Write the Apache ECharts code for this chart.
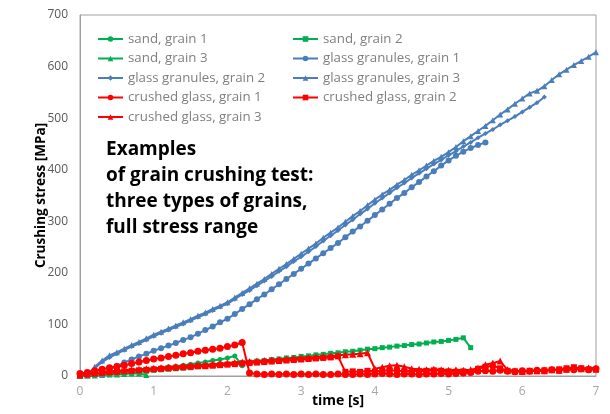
<!DOCTYPE html>
<html>
<head>
<meta charset="utf-8">
<script src="https://cdn.jsdelivr.net/npm/echarts@6/dist/echarts.min.js"></script>
<style>
  html, body { margin: 0; padding: 0; background: #ffffff; }
  #chart { width: 610px; height: 414px; }
</style>
</head>
<body>
<div id="chart"></div>
<script>
// Crushing stress [MPa] sampled every 0.1 s, starting at the given time.
const STEP = 0.1;

const sandGrain1Start = 0.0;
const sandGrain1 = [0, 1, 2, 3, 5, 6, 8, 9, 11, 12, 14, 16, 18, 19, 21, 23, 25, 27, 30, 32, 35, 39, 20];

const sandGrain2Start = 0.0;
const sandGrain2 = [0, 1, 2, 3, 4, 5, 6, 7, 8, 9, 11, 12, 13, 14, 15, 16, 18, 19, 20, 22,
  23, 24, 26, 27, 29, 30, 32, 33, 35, 36, 38, 39, 41, 42, 44, 45, 47, 48, 50, 52,
  53, 55, 56, 58, 59, 61, 62, 64, 66, 67, 69, 71, 74, 55];

const sandGrain3Start = 0.0;
const sandGrain3 = [0, 1, 1, 2, 3, 3, 4, 5, 5, 2];

const glassGrain1Start = 0.3;
const glassGrain1 = [2, 12, 20, 26, 32, 38, 43, 49, 54, 59, 64, 70, 75, 82, 89, 96, 104, 111,
  120, 130, 139, 149, 158, 168, 178, 188, 198, 208, 218, 228, 238, 248, 258, 269, 280, 290,
  301, 312, 323, 334, 345, 355, 366, 376, 387, 397, 408, 418, 427, 435, 442, 448, 453];

const glassGrain2Start = 0.1;
const glassGrain2 = [2, 15, 27, 36, 43, 50, 57, 63, 70, 77, 83, 89, 95, 101, 107, 114, 120, 127,
  134, 140, 149, 158, 166, 175, 184, 193, 203, 212, 222, 231, 241, 251, 262, 272, 282, 293,
  303, 314, 324, 335, 345, 355, 365, 374, 384, 393, 402, 411, 419, 428, 436, 445, 453, 462,
  470, 478, 487, 495, 503, 512, 521, 530, 541];

const glassGrain3Start = 0.1;
const glassGrain3 = [1, 18, 30, 40, 46, 53, 60, 66, 73, 80, 86, 92, 98, 104, 110, 117, 123, 130,
  136, 143, 152, 161, 170, 179, 188, 198, 208, 217, 227, 237, 247, 257, 268, 278, 288, 299,
  310, 320, 331, 342, 352, 361, 371, 380, 390, 399, 408, 417, 425, 434, 444, 455, 465, 475,
  485, 496, 507, 517, 528, 538, 548, 553, 562, 574, 585, 594, 603, 611, 619, 628];

const crushedGrain1Start = 0.0;
const crushedGrain1 = [5, 7, 10, 13, 16, 18, 21, 24, 27, 30, 33, 35, 38, 40, 43, 45, 48, 50, 52,
  54, 57, 60, 65, 6, 4, 3, 4, 3, 4, 3, 4, 3, 4, 3, 3, 4, 3, 3, 4, 3, 4, 5, 4, 3, 4, 4, 3, 4,
  4, 5, 4, 5, 6, 7, 9, 10, 9, 11, 9, 8, 10, 9, 11, 10, 12, 11, 13, 12, 14, 12, 14];

const crushedGrain2Start = 0.0;
const crushedGrain2 = [3, 4, 5, 6, 7, 8, 9, 10, 11, 12, 13, 14, 15, 16, 17, 18, 19, 19, 20, 21,
  22, 23, 24, 25, 26, 27, 28, 29, 30, 31, 32, 33, 34, 35, 36, 38, 8, 9, 8, 10, 9, 10, 11, 10,
  9, 10, 9, 10, 11, 10, 9, 8, 9, 8, 14, 18, 20, 15, 10, 9, 8, 10, 9, 11, 12, 13, 15, 17, 15,
  13, 12];

const crushedGrain3Start = 0.0;
const crushedGrain3 = [2, 4, 6, 8, 9, 10, 11, 12, 13, 14, 15, 16, 17, 18, 19, 20, 21, 22, 23, 24,
  25, 26, 27, 28, 29, 30, 31, 32, 33, 34, 35, 36, 37, 38, 39, 40, 41, 42, 43, 45, 14, 17, 20,
  21, 18, 14, 13, 12, 13, 12, 11, 12, 11, 12, 15, 22, 25, 29, 12, 10, 9, 10, 11, 10, 12, 11,
  13, 16, 14, 16, 15];

const seriesNames = [
  'sand, grain 1', 'sand, grain 2', 'sand, grain 3',
  'glass granules, grain 1', 'glass granules, grain 2', 'glass granules, grain 3',
  'crushed glass, grain 1', 'crushed glass, grain 2', 'crushed glass, grain 3'
];

const xTicks = [0, 1, 2, 3, 4, 5, 6, 7];
const yTicks = [0, 100, 200, 300, 400, 500, 600, 700];

const GREEN = '#00b050';
const BLUE = '#4a7ebb';
const RED = '#ff0000';
const FONT = 'Open Sans';

function toPairs(start, values) {
  return values.map((v, i) => [+(start + i * STEP).toFixed(2), v]);
}

function lineSeries(name, start, values, color, symbol, size) {
  return {
    name: name,
    type: 'line',
    data: toPairs(start, values),
    symbol: symbol,
    symbolSize: size,
    showAllSymbol: true,
    lineStyle: { color: color, width: 2 },
    itemStyle: { color: color },
    animation: false
  };
}

const series = [
  lineSeries(seriesNames[0], sandGrain1Start, sandGrain1, GREEN, 'circle', 5),
  lineSeries(seriesNames[1], sandGrain2Start, sandGrain2, GREEN, 'rect', 5),
  lineSeries(seriesNames[2], sandGrain3Start, sandGrain3, GREEN, 'triangle', 6),
  lineSeries(seriesNames[3], glassGrain1Start, glassGrain1, BLUE, 'circle', 6),
  lineSeries(seriesNames[4], glassGrain2Start, glassGrain2, BLUE, 'diamond', 5),
  lineSeries(seriesNames[5], glassGrain3Start, glassGrain3, BLUE, 'triangle', 6),
  lineSeries(seriesNames[6], crushedGrain1Start, crushedGrain1, RED, 'circle', 7),
  lineSeries(seriesNames[7], crushedGrain2Start, crushedGrain2, RED, 'rect', 6),
  lineSeries(seriesNames[8], crushedGrain3Start, crushedGrain3, RED, 'triangle', 7)
];

const legendText = { color: '#7f7f7f', fontFamily: FONT, fontSize: 13.3, lineHeight: 14 };
function legendColumn(left, names) {
  return {
    orient: 'vertical',
    left: left,
    top: 32,
    itemWidth: 25,
    itemHeight: 7,
    itemGap: 5.5,
    padding: 0,
    selectedMode: false,
    textStyle: legendText,
    data: names
  };
}

const chart = echarts.init(document.getElementById('chart'), null, { renderer: 'canvas' });
chart.setOption({
  animation: false,
  backgroundColor: '#ffffff',
  grid: {
    left: 80, right: 14, top: 15, bottom: 38,
    containLabel: false,
    outerBoundsMode: 'none',
    show: true, borderColor: '#a0a0a0', borderWidth: 1, backgroundColor: 'transparent'
  },
  legend: [
    legendColumn(97, [seriesNames[0], seriesNames[2], seriesNames[4], seriesNames[6], seriesNames[8]]),
    legendColumn(292, [seriesNames[1], seriesNames[3], seriesNames[5], seriesNames[7]])
  ],
  xAxis: {
    type: 'value',
    min: xTicks[0], max: xTicks[xTicks.length - 1], interval: 1,
    name: 'time [s]',
    nameLocation: 'middle',
    nameGap: 18,
    nameMoveOverlap: false,
    nameTextStyle: { fontFamily: FONT, fontWeight: 'bold', fontSize: 14, color: '#000000' },
    axisLine: { show: true, lineStyle: { color: '#a0a0a0', width: 1 } },
    axisTick: { show: false },
    splitLine: { show: false },
    axisLabel: { color: '#a6a6a6', fontFamily: FONT, fontSize: 12, margin: 10 }
  },
  yAxis: {
    type: 'value',
    min: yTicks[0], max: yTicks[yTicks.length - 1], interval: 100,
    name: 'Crushing stress [MPa]',
    nameLocation: 'middle',
    nameGap: 32,
    nameMoveOverlap: false,
    nameTextStyle: { fontFamily: FONT, fontWeight: 'bold', fontSize: 13.5, color: '#000000' },
    axisLine: { show: true, lineStyle: { color: '#a0a0a0', width: 1 } },
    axisTick: { show: false },
    splitLine: { show: false },
    axisLabel: { color: '#595959', fontFamily: FONT, fontSize: 12, margin: 12 }
  },
  graphic: [{
    type: 'text',
    left: 106,
    top: 137,
    style: {
      text: 'Examples\nof grain crushing test:\nthree types of grains,\nfull stress range',
      fontFamily: FONT,
      fontWeight: 'bold',
      fontSize: 19,
      lineHeight: 26,
      fill: '#000000'
    }
  }],
  series: series
});
</script>
</body>
</html>
